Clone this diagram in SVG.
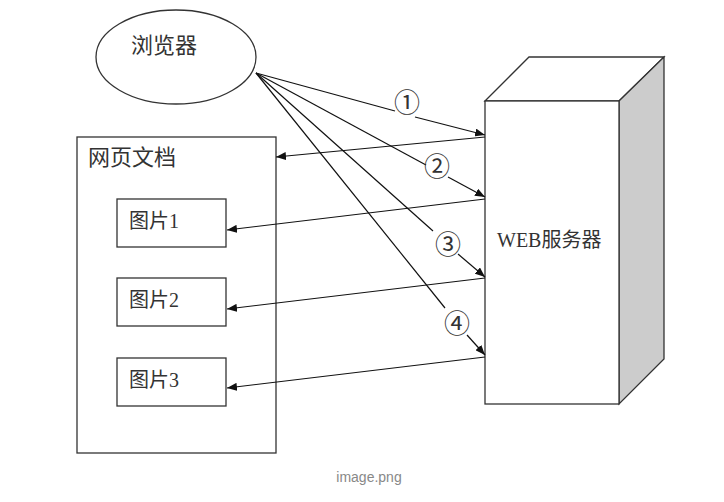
<svg xmlns="http://www.w3.org/2000/svg" width="724" height="502" viewBox="0 0 724 502">
<style>
.sh{fill:#fff;stroke:#333;stroke-width:1.3}
.t{font-family:"Liberation Serif","Noto Sans CJK SC",serif;fill:#333}
.ln{stroke:#111;stroke-width:1.2;fill:none}
.num{font-family:"Noto Sans CJK SC",sans-serif;font-size:26px;fill:#333;text-anchor:middle}
</style>
<defs>
<marker id="ah" viewBox="0 0 10 8" refX="10" refY="4" markerWidth="10" markerHeight="8" markerUnits="userSpaceOnUse" orient="auto">
<path d="M0,0 L10,4 L0,8 Z" fill="#111"/>
</marker>
</defs>
<rect width="724" height="502" fill="#fff"/>
<g id="browser">
<ellipse class="sh" cx="176" cy="57" rx="80" ry="47"/>
<text class="t" x="131" y="53" font-size="22">浏览器</text>
</g>
<g id="doc">
<rect class="sh" x="77" y="137" width="199" height="316"/>
<text class="t" x="88" y="165" font-size="22">网页文档</text>
</g>
<g id="img1">
<rect class="sh" x="117" y="199" width="109" height="48"/>
<text class="t" x="129" y="228" font-size="20">图片1</text>
</g>
<g id="img2">
<rect class="sh" x="117" y="278" width="109" height="48"/>
<text class="t" x="129" y="307" font-size="20">图片2</text>
</g>
<g id="img3">
<rect class="sh" x="117" y="358" width="109" height="48"/>
<text class="t" x="129" y="387" font-size="20">图片3</text>
</g>
<g id="server">
<polygon points="485,101 529,57 664,57 619,101" fill="#fff" stroke="#333" stroke-width="1.3"/>
<polygon points="619,101 664,57 664,359 619,404" fill="#cccccc" stroke="#333" stroke-width="1.3"/>
<rect class="sh" x="485" y="101" width="134" height="303"/>
<text class="t" x="497" y="247" font-size="20">WEB服务器</text>
</g>
<g id="connectors">
<line class="ln" x1="256" y1="73" x2="395" y2="111"/>
<line class="ln" x1="415" y1="117" x2="485" y2="135" marker-end="url(#ah)"/>
<line class="ln" x1="256" y1="73" x2="426" y2="165"/>
<line class="ln" x1="448" y1="177" x2="485" y2="197" marker-end="url(#ah)"/>
<line class="ln" x1="256" y1="73" x2="433" y2="231"/>
<line class="ln" x1="458" y1="254" x2="485" y2="277" marker-end="url(#ah)"/>
<line class="ln" x1="256" y1="73" x2="445" y2="308"/>
<line class="ln" x1="467" y1="335" x2="485" y2="355" marker-end="url(#ah)"/>
<line class="ln" x1="485" y1="137" x2="276" y2="157" marker-end="url(#ah)"/>
<line class="ln" x1="485" y1="199" x2="227" y2="230" marker-end="url(#ah)"/>
<line class="ln" x1="485" y1="278" x2="227" y2="309" marker-end="url(#ah)"/>
<line class="ln" x1="485" y1="357" x2="227" y2="388" marker-end="url(#ah)"/>
<text class="num" x="407" y="112">①</text>
<text class="num" x="437" y="176">②</text>
<text class="num" x="448" y="254">③</text>
<text class="num" x="457" y="333">④</text>
</g>
<text x="369" y="482" font-family="'Liberation Sans',sans-serif" font-size="14" fill="#888" text-anchor="middle">image.png</text>
</svg>
